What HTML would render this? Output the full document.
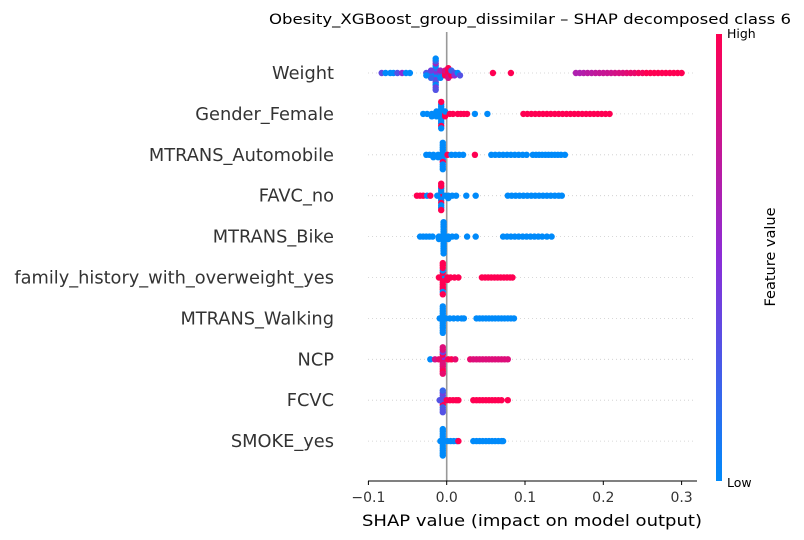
<!DOCTYPE html>
<html><head><meta charset="utf-8"><style>
html,body{margin:0;padding:0;background:#fff;}
svg{display:block;font-family:"DejaVu Sans","Liberation Sans",sans-serif;}
</style></head><body>
<svg id="chart" width="804" height="540" viewBox="0 0 804 540" xmlns="http://www.w3.org/2000/svg">
<defs><linearGradient id="cbg" x1="0" y1="1" x2="0" y2="0">
<stop offset="0" stop-color="rgb(0,138,250)"/><stop offset="0.5" stop-color="rgb(140,45,215)"/><stop offset="1" stop-color="rgb(255,0,82)"/></linearGradient></defs>
<text x="530" y="24" text-anchor="middle" font-size="14" fill="#000" textLength="522" lengthAdjust="spacingAndGlyphs">Obesity_XGBoost_group_dissimilar – SHAP decomposed class 6</text>
<g id="grid"></g>
<line x1="446.7" y1="32" x2="446.7" y2="481" stroke="#999" stroke-width="1.6"/>
<g id="dots"></g>
<g id="labels"></g>
<g id="xaxis"></g>
<text x="532" y="526" text-anchor="middle" font-size="16" fill="#000" textLength="340" lengthAdjust="spacingAndGlyphs">SHAP value (impact on model output)</text>
<rect x="716" y="34" width="6" height="447" fill="url(#cbg)"/>
<text x="727" y="38" font-size="12.5" fill="#000">High</text>
<text x="727" y="487" font-size="12.5" fill="#000">Low</text>
<text x="775" y="257" font-size="14.5" fill="#000" text-anchor="middle" transform="rotate(-90 775 257)">Feature value</text>
</svg>
<script>
const featureNames=["Weight","Gender_Female","MTRANS_Automobile","FAVC_no","MTRANS_Bike","family_history_with_overweight_yes","MTRANS_Walking","NCP","FCVC","SMOKE_yes"];
const xTicks=[-0.1,0,0.1,0.2,0.3];
const xTickLabels=["\u22120.1","0.0","0.1","0.2","0.3"];
const shapWeight=[-0.083,-0.078,-0.072,-0.068,-0.063,-0.057,-0.052,-0.047,-0.014,-0.014,-0.014,-0.014,-0.014,-0.014,-0.014,-0.014,-0.014,-0.014,-0.014,-0.014,-0.014,-0.014,-0.02,-0.02,-0.02,-0.02,-0.026,-0.026,-0.008,-0.008,-0.008,-0.008,-0.002,-0.002,-0.002,0.002,0.002,0.002,0.002,0.002,0.006,0.006,0.006,0.01,0.01,0.014,0.017,0.059,0.082,0.165,0.17,0.175,0.18,0.185,0.19,0.195,0.2,0.205,0.21,0.215,0.22,0.225,0.23,0.235,0.24,0.245,0.25,0.255,0.26,0.265,0.27,0.275,0.28,0.285,0.29,0.295,0.3];
const featWeight=[0.35,0,0,0,0.3,0.5,0,0,0,0.3,0.5,0,0.2,0.4,0,0.3,0.6,0,0.2,0.4,0,0.3,0.3,0,0.4,0.2,0.3,0,0.5,0.2,0.6,0,0.9,1,0.8,1,0.9,1,0.8,1,0.9,1,0.2,0.3,0.5,0,0.3,1,1,0.65,0.65,0.67,0.7,0.7,0.72,0.74,0.75,0.76,0.78,0.8,0.82,0.84,0.87,0.9,0.9,0.95,0.95,1,1,1,1,1,1,1,1,1,1];
const shapGender=[-0.007,-0.007,-0.007,-0.007,-0.007,-0.007,-0.007,-0.007,-0.007,-0.007,-0.007,-0.007,-0.013,-0.013,-0.013,-0.019,-0.019,-0.025,-0.03,-0.002,-0.002,-0.002,0.004,0.008,0.014,0.018,0.022,0.026,0.036,0.052,0.098,0.103,0.108,0.113,0.118,0.123,0.128,0.133,0.138,0.143,0.148,0.153,0.158,0.163,0.168,0.173,0.178,0.183,0.188,0.193,0.198,0.203,0.208];
const featGender=[1,0,0,0,0,0,0,0,0,1,1,0,0,0,0,0,0,0,0,1,1,0,1,1,1,1,1,1,0,0,1,1,1,1,1,1,1,1,1,1,1,1,1,1,1,1,1,1,1,1,1,1,1];
const shapAuto=[-0.005,-0.005,-0.005,-0.005,-0.005,-0.005,-0.005,-0.005,-0.005,-0.005,-0.005,-0.005,-0.011,-0.011,-0.017,-0.017,-0.022,-0.026,0.001,0.006,0.011,0.016,0.021,0.036,0.057,0.062,0.067,0.072,0.077,0.082,0.087,0.092,0.097,0.102,0.11,0.114,0.118,0.122,0.126,0.13,0.134,0.138,0.142,0.146,0.151];
const featAuto=[0,0,0,0,0,1,0,0,0,0,0,0,0,0,0,0,0,0,1,0,0,0,0,1,0,0,0,0,0,0,0,0,0,0,0,0,0,0,0,0,0,0,0,0,0];
const shapFavc=[-0.038,-0.034,-0.03,-0.025,-0.021,-0.007,-0.007,-0.007,-0.007,-0.007,-0.007,-0.007,-0.007,-0.007,-0.007,-0.007,-0.007,-0.012,-0.002,0.002,0.002,0.007,0.012,0.025,0.037,0.078,0.083,0.088,0.093,0.098,0.103,0.108,0.113,0.118,0.123,0.128,0.133,0.138,0.143,0.147];
const featFavc=[1,1,1,0,1,1,0,1,0,0,1,0,0,1,0,1,1,0,0,0,0,0,0,0,0,0,0,0,0,0,0,0,0,0,0,0,0,0,0,0];
const shapBike=[-0.034,-0.03,-0.026,-0.022,-0.018,-0.004,-0.004,-0.004,-0.004,-0.004,-0.004,-0.004,-0.004,-0.004,-0.004,-0.004,-0.004,-0.004,-0.004,-0.01,-0.01,0.002,0.002,0.007,0.012,0.026,0.037,0.072,0.077,0.082,0.087,0.092,0.097,0.102,0.107,0.112,0.117,0.122,0.128,0.134];
const featBike=[0,0,0,0,0,0,0,0,0,0,0,0,0,0,0,0,0,0,0,0,0,0,0,0,0,0,0,0,0,0,0,0,0,0,0,0,0,0,0,0];
const shapFamily=[-0.005,-0.005,-0.005,-0.005,-0.005,-0.005,-0.005,-0.005,-0.005,-0.005,-0.005,-0.005,-0.005,-0.005,0.001,0.001,0.005,0.01,0.015,-0.01,0.045,0.049,0.053,0.057,0.061,0.065,0.069,0.073,0.077,0.081,0.084];
const featFamily=[1,1,0,1,1,1,0,1,1,1,1,0,1,1,1,1,1,1,1,1,1,1,1,1,1,1,1,1,1,1,1];
const shapWalking=[-0.005,-0.005,-0.005,-0.005,-0.005,-0.005,-0.005,-0.005,-0.005,-0.005,-0.005,-0.005,-0.009,-0.001,0.004,0.009,0.014,0.019,0.022,0.038,0.042,0.046,0.05,0.054,0.058,0.062,0.066,0.07,0.074,0.078,0.082,0.086];
const featWalking=[0,0,0,0,0,0,0,0,0,0,0,0,0,0,0,0,0,0,0,0,0,0,0,0,0,0,0,0,0,0,0,0];
const shapNcp=[-0.005,-0.005,-0.005,-0.005,-0.005,-0.005,-0.005,-0.005,-0.005,-0.005,-0.005,-0.005,-0.021,-0.015,-0.01,0.002,0.006,0.011,0.03,0.034,0.038,0.042,0.046,0.05,0.054,0.058,0.062,0.066,0.07,0.074,0.078];
const featNcp=[0.85,0.9,0.5,0.85,1,0.85,0.4,0.9,0.85,1,0.85,0.9,0,0.8,0.9,1,1,0.9,0.9,0.85,0.85,0.85,0.85,0.85,0.85,0.85,0.85,0.85,0.85,0.85,0.85];
const shapFcvc=[-0.005,-0.005,-0.005,-0.005,-0.005,-0.005,-0.005,-0.005,-0.005,-0.005,0,0.004,0.008,0.012,0.015,-0.009,0.034,0.038,0.042,0.046,0.05,0.054,0.058,0.062,0.066,0.07,0.078];
const featFcvc=[0.3,0.2,0.4,1,0.3,0.2,0.4,0.3,0.2,0.3,1,1,1,1,1,0.3,1,1,1,1,1,1,1,1,1,1,1];
const shapSmoke=[-0.005,-0.005,-0.005,-0.005,-0.005,-0.005,-0.005,-0.005,-0.005,-0.005,-0.005,-0.005,-0.008,0.001,0.005,0.009,0.013,0.015,0.034,0.038,0.042,0.046,0.05,0.054,0.058,0.062,0.066,0.07,0.072];
const featSmoke=[0,0,0,0,0,0,0,0,0,0,0,0,0,0,0,0,0,1,0,0,0,0,0,0,0,0,0,0,0];
const shapValues=[shapWeight,shapGender,shapAuto,shapFavc,shapBike,shapFamily,shapWalking,shapNcp,shapFcvc,shapSmoke];
const featureValues=[featWeight,featGender,featAuto,featFavc,featBike,featFamily,featWalking,featNcp,featFcvc,featSmoke];

const NS="http://www.w3.org/2000/svg";
const x0=446.7, pxPer=783;
function xs(v){return x0+v*pxPer;}
function ys(i){return 73+i*40.9;}
function col(t){
  const a=[0,138,250],m=[140,45,215],b=[255,0,82];
  let p,q,u; if(t<0.5){p=a;q=m;u=t/0.5;}else{p=m;q=b;u=(t-0.5)/0.5;}
  return `rgb(${Math.round(p[0]+(q[0]-p[0])*u)},${Math.round(p[1]+(q[1]-p[1])*u)},${Math.round(p[2]+(q[2]-p[2])*u)})`;
}
const grid=document.getElementById('grid'),dots=document.getElementById('dots'),labels=document.getElementById('labels'),xaxis=document.getElementById('xaxis');
featureNames.forEach((name,i)=>{
  const y=ys(i);
  const gl=document.createElementNS(NS,'line');
  gl.setAttribute('x1',368);gl.setAttribute('x2',696);gl.setAttribute('y1',y);gl.setAttribute('y2',y);
  gl.setAttribute('stroke','#ccc');gl.setAttribute('stroke-width','0.8');gl.setAttribute('stroke-dasharray','1,3');
  
  
  grid.appendChild(gl);
  const t=document.createElementNS(NS,'text');
  t.setAttribute('x',334);t.setAttribute('y',y+6);t.setAttribute('text-anchor','end');
  t.setAttribute('font-size','17.8');t.setAttribute('fill','#333');t.textContent=name;
  
  
  labels.appendChild(t);
  const bins={};
  const sv=shapValues[i],fv=featureValues[i];
  sv.forEach((v,k)=>{
    const px=xs(v);const b=Math.round(px/3);
    const n=bins[b]||0;bins[b]=n+1;
    let off=0; if(n>0){const s=Math.ceil(n/2);off=(n%2?1:-1)*s*2.4;}
    const c=document.createElementNS(NS,'circle');
    c.setAttribute('cx',px.toFixed(1));c.setAttribute('cy',(y+off).toFixed(1));c.setAttribute('r','3.2');
    c.setAttribute('fill',col(fv[k]));
    
    
    dots.appendChild(c);
  });
});
const ax=document.createElementNS(NS,'line');
ax.setAttribute('x1',368);ax.setAttribute('x2',697);ax.setAttribute('y1',481);ax.setAttribute('y2',481);ax.setAttribute('stroke','#000');ax.setAttribute('stroke-width','1');


xaxis.appendChild(ax);
xTicks.forEach((v,k)=>{
  const x=xs(v);
  const tk=document.createElementNS(NS,'line');
  tk.setAttribute('x1',x);tk.setAttribute('x2',x);tk.setAttribute('y1',481);tk.setAttribute('y2',485);tk.setAttribute('stroke','#000');
  
  
  xaxis.appendChild(tk);
  const tl=document.createElementNS(NS,'text');
  tl.setAttribute('x',x);tl.setAttribute('y',502);tl.setAttribute('text-anchor','middle');tl.setAttribute('font-size','14');tl.setAttribute('fill','#333');
  tl.textContent=xTickLabels[k];
  
  
  xaxis.appendChild(tl);
});
</script>
</body></html>
